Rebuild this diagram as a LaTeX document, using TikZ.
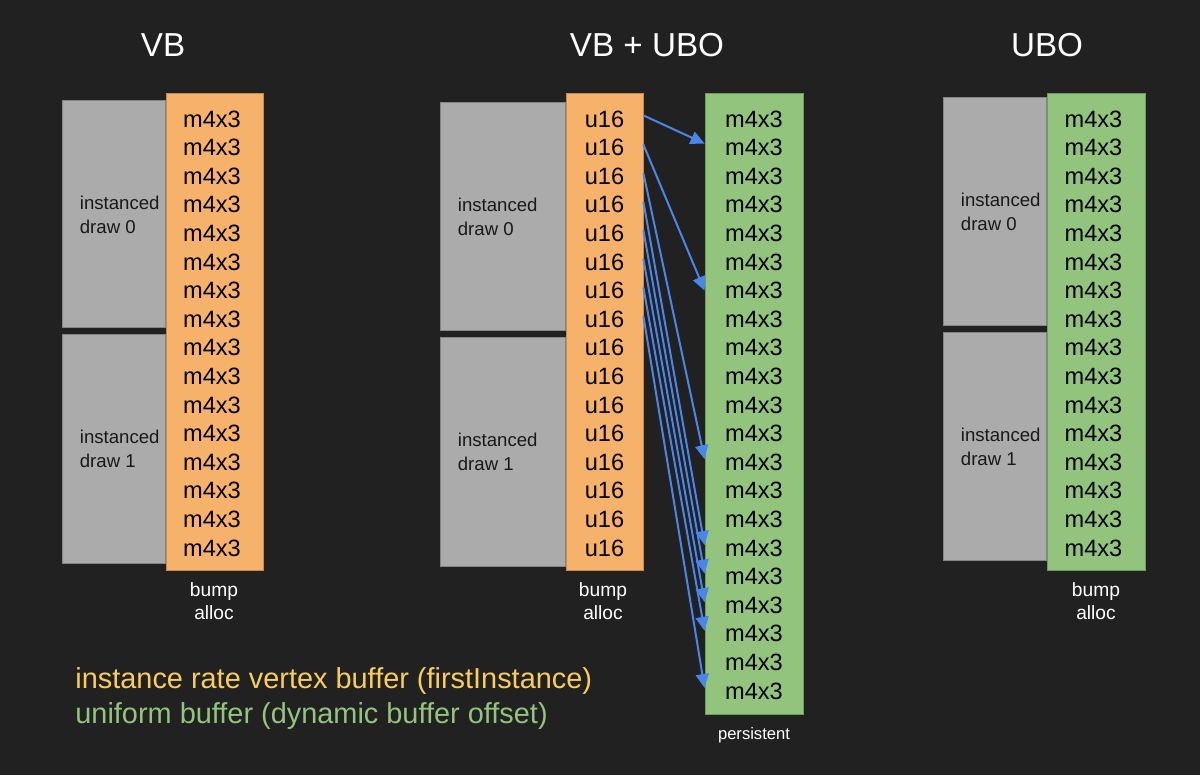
\documentclass[tikz,border=0pt]{standalone}
\usepackage{fontspec}
\setmainfont{Liberation Sans}
\usetikzlibrary{arrows.meta,calc}
\definecolor{bg}{HTML}{212121}
\definecolor{grayfill}{HTML}{ABABAB}
\definecolor{grayedge}{HTML}{858585}
\definecolor{orangefill}{HTML}{F6B26B}
\definecolor{orangeedge}{HTML}{C98A45}
\definecolor{greenfill}{HTML}{93C47D}
\definecolor{greenedge}{HTML}{6E9E5A}
\definecolor{arrowblue}{HTML}{4A86E8}
\definecolor{legendyellow}{HTML}{F8CD5E}
\definecolor{legendgreen}{HTML}{93C47D}
\begin{document}
\begin{tikzpicture}[x=0.5pt,y=-0.5pt,
  graybox/.style={rectangle, fill=grayfill, draw=grayedge, line width=0.5pt, inner sep=0pt},
  orangecol/.style={rectangle, fill=orangefill, draw=orangeedge, line width=0.5pt, inner sep=0pt},
  greencol/.style={rectangle, fill=greenfill, draw=greenedge, line width=0.5pt, inner sep=0pt},
  cell/.style={inner sep=0pt, minimum height=14.3pt, text=black, font=\fontsize{11.8}{13}\selectfont},
  glabel/.style={anchor=west, align=left, inner sep=0pt, text=black!90, font=\fontsize{9.3}{12}\selectfont},
  title/.style={text=white, inner sep=0pt, font=\fontsize{16.6}{20}\selectfont},
  note/.style={text=white, align=center, inner sep=0pt, font=\fontsize{9.6}{11.5}\selectfont},
  legend/.style={anchor=base west, inner sep=0pt, font=\fontsize{14.45}{17}\selectfont},
  arr/.style={draw=arrowblue, line width=1pt, -{Triangle[length=7pt,width=6.5pt]}}
]
\fill[bg] (0,0) rectangle (1200,775);
\useasboundingbox (0,0) rectangle (1200,775);

% titles
\node[title] (tvb) at (163,45) {VB};
\node[title] (tvbubo) at (647,45) {VB + UBO};
\node[title] (tubo) at (1047,45) {UBO};

% ---------- VB ----------
\node[graybox, minimum width=51.5pt, minimum height=113.5pt] (vbd0) at (113.5,214.5) {};
\node[graybox, minimum width=51.5pt, minimum height=114pt] (vbd1) at (113.5,449) {};
\node[glabel] (vbl0) at ($(vbd0.west)+(18,0)$) {instanced\\draw 0};
\node[glabel] (vbl1) at ($(vbd1.west)+(18,0)$) {instanced\\draw 1};
\node[orangecol, minimum width=48.5pt, minimum height=238pt] (vbcol) at (214.5,332) {};
\foreach \i in {0,...,15}
  \node[cell, minimum width=48.5pt] (vb\i) at (212,{119+28.6*\i}) {m4x3};
\node[note] (vbnote) at (214,601.5) {bump\\alloc};

% ---------- VB + UBO ----------
\node[graybox, minimum width=62.5pt, minimum height=114pt] (mdd0) at (502.5,217) {};
\node[graybox, minimum width=62.5pt, minimum height=114pt] (mdd1) at (502.5,452) {};
\node[glabel] (mdl0) at ($(mdd0.west)+(18,0)$) {instanced\\draw 0};
\node[glabel] (mdl1) at ($(mdd1.west)+(18,0)$) {instanced\\draw 1};
\node[orangecol, minimum width=38.5pt, minimum height=238pt] (ucol) at (604.5,332) {};
\foreach \i in {0,...,15}
  \node[cell, minimum width=38.5pt] (u\i) at (604.5,{119+28.6*\i}) {u16};
\node[note] (unote) at (603,601.5) {bump\\alloc};
\node[greencol, minimum width=49pt, minimum height=310pt] (pcol) at (754,404) {};
\foreach \i in {0,...,20}
  \node[cell, minimum width=49pt] (p\i) at (754,{119+28.6*\i}) {m4x3};
\node[note, font=\fontsize{8.3}{10}\selectfont] (pnote) at (754,735) {persistent};

% arrows
\draw[arr] ([yshift=1.8pt]u0.east) -- ([yshift=2pt]p1.west);
\draw[arr] ([yshift=1.5pt]u1.east) -- ([yshift=0pt]p6.west);
\draw[arr] ([yshift=1.5pt]u2.east) -- ([yshift=1.5pt]p12.west);
\draw[arr] ([yshift=1.5pt]u3.east) -- ([yshift=1.5pt]p15.west);
\draw[arr] ([yshift=1.5pt]u4.east) -- ([yshift=1.5pt]p16.west);
\draw[arr] ([yshift=1.5pt]u5.east) -- ([yshift=1.5pt]p17.west);
\draw[arr] ([yshift=1.5pt]u6.east) -- ([yshift=1.5pt]p18.west);
\draw[arr] ([yshift=1.5pt]u7.east) -- ([yshift=1.5pt]p20.west);

% ---------- UBO ----------
\node[graybox, minimum width=51.5pt, minimum height=114pt] (ubd0) at (994.5,212) {};
\node[graybox, minimum width=51.5pt, minimum height=113.5pt] (ubd1) at (994.5,446.5) {};
\node[glabel] (ubl0) at ($(ubd0.west)+(18,0)$) {instanced\\draw 0};
\node[glabel] (ubl1) at ($(ubd1.west)+(18,0)$) {instanced\\draw 1};
\node[greencol, minimum width=49pt, minimum height=238pt] (ubcol) at (1096,332) {};
\foreach \i in {0,...,15}
  \node[cell, minimum width=49pt] (ub\i) at (1093.5,{119+28.6*\i}) {m4x3};
\node[note] (ubnote) at (1096,601.5) {bump\\alloc};

% legend
\node[legend, text=legendyellow] (leg1) at (75,688) {instance rate vertex buffer (firstInstance)};
\node[legend, text=legendgreen] (leg2) at (75,723) {uniform buffer (dynamic buffer offset)};
\end{tikzpicture}
\end{document}
